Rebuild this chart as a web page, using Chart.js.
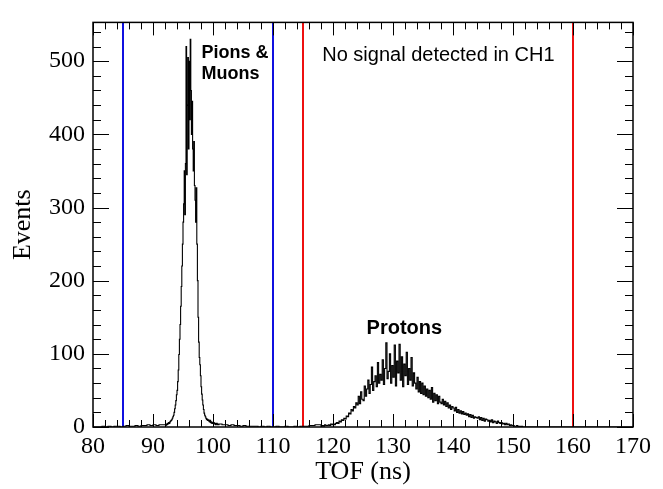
<!DOCTYPE html>
<html>
<head>
<meta charset="utf-8">
<script src="https://cdn.jsdelivr.net/npm/chart.js@4.4.0/dist/chart.umd.min.js"></script>
<style>
  html, body { margin: 0; padding: 0; background: #fff; }
  canvas { display: block; }
</style>
</head>
<body>
<canvas id="tof" width="663" height="489"></canvas>
<script>
// histogram pieces: each starts at a low edge with its own bin width
var bgLeftStart = 80, bgLeftWidth = 0.5;
var bgLeft = [0,0,0,1,0,1,0,1,1,0,1,2,1,1,2,1,2,2,3,2,3,2,3,3];

var pionStart = 92, pionWidth = 0.1;
var pions = [
  3,2,4,3,5,4,6,5,7,8,
  9,10,12,14,16,20,25,30,36,44,
  50,62,78,99,120,140,165,192,220,250,
  280,305,350,290,360,520,345,440,505,380,
  500,420,530,460,400,445,380,350,390,330,
  310,280,327,250,200,150,116,95,85,70,
  55,45,37,30,24,19,16,14,12,10,
  11,9,10,8,7,9,6,7,5,6,
  5,6,4,5,3,4,5,3,4,3
];

var bgMidStart = 101, bgMidWidth = 0.5;
var bgMid = [4,3,3,2,3,2,2,1,2,1,1,1,1,0,1,0,1,0,0,1,0,0,1,0,0,1,0,1,1,1,2,2,3,3];

var protonStart = 118, protonWidth = 0.2;
var protons = [
  1,2,1,3,2,2,3,2,4,3,
  4,3,5,6,5,8,7,10,9,12,
  11,15,14,19,18,24,22,28,26,33,
  30,42,32,48,38,36,56,42,52,64,
  46,58,82,50,62,70,55,88,60,72,
  64,92,58,80,115,66,76,100,60,84,
  68,112,56,90,74,113,64,96,55,86,
  70,102,58,80,64,95,56,74,60,52,
  68,48,62,46,60,44,56,42,52,40,
  50,38,54,34,46,36,44,32,42,34,
  32,38,30,35,28,33,26,30,24,28,
  26,22,27,20,24,19,22,18,21,17,
  19,16,18,14,17,13,16,12,14,13,
  12,14,10,13,9,12,8,11,10,8,
  9,7,10,6,8,7,5,8,6,5,
  6,4,5,3,5,3,4,2,3,2,
  2,1,1,2,0,1,0,1,0,0
];

var xTicks = [80, 90, 100, 110, 120, 130, 140, 150, 160, 170];
var yTicks = [0, 100, 200, 300, 400, 500];
var blueCuts = [85, 110];
var redCuts = [115, 160];

var xMin = 80, xMax = 170, yMin = 0, yMax = 553;

function addBins(out, start, width, vals) {
  for (var i = 0; i < vals.length; i++) {
    out.push({x: +(start + i * width).toFixed(3), y: vals[i]});
  }
}

var hist = [];
addBins(hist, bgLeftStart, bgLeftWidth, bgLeft);
addBins(hist, pionStart, pionWidth, pions);
addBins(hist, bgMidStart, bgMidWidth, bgMid);
addBins(hist, protonStart, protonWidth, protons);
hist.push({x: protonStart + protons.length * protonWidth, y: 0});
hist.push({x: xMax, y: 0});

function cutLine(x, color) {
  return {
    data: [{x: x, y: yMin}, {x: x, y: yMax}],
    borderColor: color,
    borderWidth: 2,
    pointRadius: 0,
    showLine: true
  };
}

var serif = 'Liberation Serif, Times New Roman, serif';
var sans = 'Liberation Sans, Arial, Helvetica, sans-serif';

// ROOT-style frame with ticks inside on all four sides
var frame = {
  id: 'frame',
  afterDatasetsDraw: function(chart) {
    var ctx = chart.ctx, a = chart.chartArea;
    var sx = chart.scales.x, sy = chart.scales.y;
    ctx.save();
    ctx.strokeStyle = '#000';
    ctx.lineWidth = 1;
    ctx.beginPath();
    var v, px, len;
    for (v = xMin; v <= xMax + 1e-6; v += 2) {
      px = Math.round(sx.getPixelForValue(v)) + 0.5;
      len = (Math.abs(v % 10) < 1e-6) ? 13 : 7;
      ctx.moveTo(px, a.bottom); ctx.lineTo(px, a.bottom - len);
      ctx.moveTo(px, a.top); ctx.lineTo(px, a.top + len);
    }
    for (v = yMin; v <= yMax; v += 20) {
      px = Math.round(sy.getPixelForValue(v)) + 0.5;
      len = (v % 100 === 0) ? 16 : 8;
      ctx.moveTo(a.left, px); ctx.lineTo(a.left + len, px);
      ctx.moveTo(a.right, px); ctx.lineTo(a.right - len, px);
    }
    ctx.stroke();
    ctx.lineWidth = 1.5;
    ctx.strokeRect(a.left, a.top, a.right - a.left, a.bottom - a.top);

    ctx.fillStyle = '#000';
    ctx.textBaseline = 'alphabetic';
    ctx.textAlign = 'left';
    ctx.font = 'bold 18px ' + sans;
    ctx.fillText('Pions &', sx.getPixelForValue(98.1), sy.getPixelForValue(505));
    ctx.fillText('Muons', sx.getPixelForValue(98.1), sy.getPixelForValue(476));
    ctx.font = '20px ' + sans;
    ctx.fillText('No signal detected in CH1', sx.getPixelForValue(118.2), sy.getPixelForValue(500));
    ctx.textAlign = 'center';
    ctx.font = 'bold 20px ' + sans;
    ctx.fillText('Protons', sx.getPixelForValue(131.9), sy.getPixelForValue(127));
    ctx.restore();
  }
};

var config = {
  type: 'scatter',
  data: {
    datasets: [{
      data: hist,
      borderColor: '#000',
      borderWidth: 1.1,
      pointRadius: 0,
      showLine: true,
      stepped: true
    },
    cutLine(blueCuts[0], '#1010e0'),
    cutLine(blueCuts[1], '#1010e0'),
    cutLine(redCuts[0], '#ee1010'),
    cutLine(redCuts[1], '#ee1010')]
  },
  options: {
    responsive: false,
    animation: false,
    layout: { padding: { left: 0, top: 12, right: 30, bottom: 0 } },
    plugins: { legend: { display: false }, tooltip: { enabled: false } },
    scales: {
      x: {
        type: 'linear',
        min: xMin,
        max: xMax,
        afterFit: function(s) { s.height = 62; },
        afterBuildTicks: function(s) { s.ticks = xTicks.map(function(v) { return {value: v}; }); },
        grid: { display: false, drawTicks: false },
        border: { display: false },
        ticks: { padding: 5, color: '#000', font: { family: serif, size: 24 }, maxRotation: 0 },
        title: { display: true, text: 'TOF (ns)', color: '#000', font: { family: serif, size: 26 }, padding: { top: 0, bottom: 1 } }
      },
      y: {
        type: 'linear',
        min: yMin,
        max: yMax,
        afterFit: function(s) { s.width = 93; },
        afterBuildTicks: function(s) { s.ticks = yTicks.map(function(v) { return {value: v}; }); },
        grid: { display: false, drawTicks: false },
        border: { display: false },
        ticks: { padding: 8, color: '#000', font: { family: serif, size: 24 } },
        title: { display: true, text: 'Events', color: '#000', font: { family: serif, size: 26 }, padding: { top: 8, bottom: 0 } }
      }
    }
  },
  plugins: [frame]
};

window.onload = function() {
  window.tofChart = new Chart(document.getElementById('tof'), config);
};
</script>
</body>
</html>
